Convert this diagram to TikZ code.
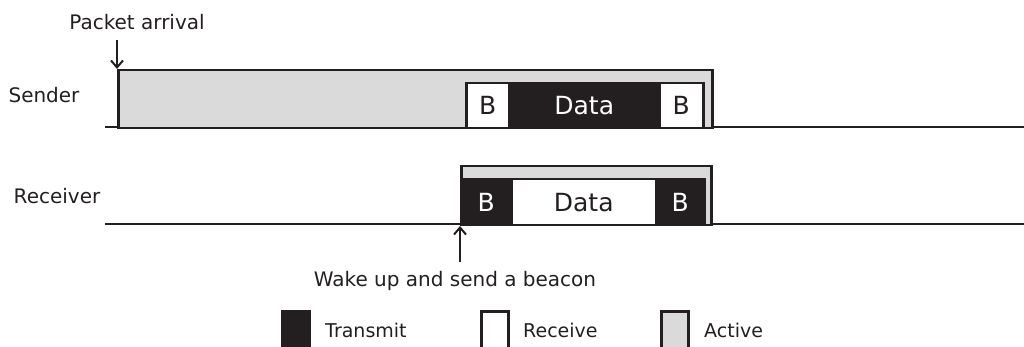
\documentclass[tikz,border=0pt]{standalone}
\usepackage{fontspec}
\setmainfont{DejaVu Sans}
\usetikzlibrary{arrows.meta}
\definecolor{ink}{HTML}{231F20}
\definecolor{act}{HTML}{DADADA}
\begin{document}
\begin{tikzpicture}[x=1pt,y=-1pt,
  box/.style={draw=ink,line width=2.5pt,inner sep=0pt,anchor=north west,text=ink},
  rx/.style={box,fill=white},
  tx/.style={box,fill=ink,text=white},
  av/.style={box,fill=act},
  big/.style={font=\fontsize{25}{30}\selectfont},
  lbl/.style={font=\fontsize{20}{24}\selectfont,text=ink,inner sep=0pt},
  leg/.style={font=\fontsize{19}{23}\selectfont,text=ink,inner sep=0pt,anchor=west},
  axis/.style={draw=ink,line width=2.5pt},
  arr/.style={draw=ink,line width=2.2pt,-{Straight Barb[length=7pt,width=12pt,line width=2pt]}}
]
\useasboundingbox (0,0) rectangle (1024,347);
% axes
\coordinate (s0) at (105,127);
\coordinate (s1) at (1024,127);
\coordinate (r0) at (105,224);
\coordinate (r1) at (1024,224);
\draw[axis] (s0) -- (s1);
\draw[axis] (r0) -- (r1);
% sender
\node[av,minimum width=594,minimum height=58] (sact) at (117,69) {};
\node[rx,big,minimum width=43,minimum height=45] (sb1) at (465,82) {B};
\node[tx,big,minimum width=150,minimum height=45] (sd) at (508,82) {Data};
\node[rx,big,minimum width=44,minimum height=45] (sb2) at (658,82) {B};
% receiver
\node[av,minimum width=250,minimum height=59] (ract) at (460,165) {};
\node[tx,big,minimum width=50,minimum height=46] (rb1) at (460,178) {B};
\node[rx,big,minimum width=145,minimum height=46] (rd) at (510,178) {Data};
\node[tx,big,minimum width=48,minimum height=46] (rb2) at (655,178) {B};
% labels
\node[lbl] (snd) at (44,95) {Sender};
\node[lbl] (rcv) at (57,196) {Receiver};
\node[lbl] (pa) at (137,22) {Packet arrival};
\coordinate (pat) at (117,40);
\draw[arr] (pat) -- (sact.north west);
\node[lbl] (wk) at (455,281) {Wake up and send a beacon};
\coordinate (wkt) at (460,262);
\coordinate (wkh) at (460,226);
\draw[arr] (wkt) -- (wkh);
% legend
\node[box,fill=ink,minimum width=27,minimum height=40] (lt) at (281,310) {};
\node[leg] (ltt) at (325,330) {Transmit};
\node[box,fill=white,minimum width=27,minimum height=40] (lr) at (480,310) {};
\node[leg] (lrt) at (523,330) {Receive};
\node[box,fill=act,minimum width=27,minimum height=40] (la) at (660,310) {};
\node[leg] (lat) at (704,330) {Active};
\end{tikzpicture}
\end{document}
